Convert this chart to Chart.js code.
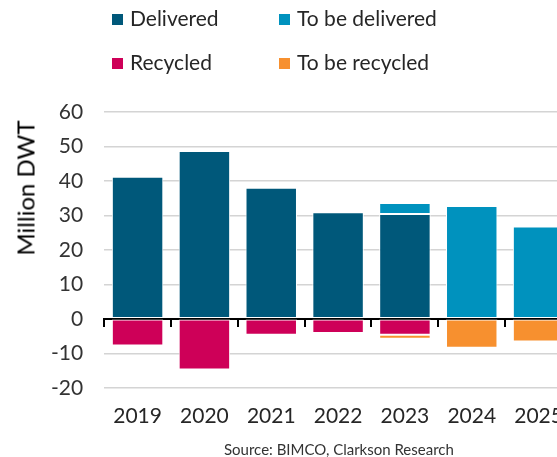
<!DOCTYPE html>
<html lang="en">

<head>
    <meta charset="UTF-8">
    <title>Deliveries and Recycling</title>
    <style>
        html, body {
            margin: 0;
            padding: 0;
            background: #ffffff;
            overflow: hidden;
        }

        .legend-item {
            position: absolute;
            font-family: Lato, "Open Sans", sans-serif;
            font-size: 21px;
            line-height: 24px;
            color: #262626;
            white-space: nowrap;
        }

        .legend-item span {
            display: inline-block;
            width: 11px;
            height: 11px;
            margin-right: 7px;
            vertical-align: 1px;
        }

        .ytitle {
            position: absolute;
            left: 25px;
            top: 188px;
            font-family: Lato, "Open Sans", sans-serif;
            font-size: 24px;
            color: #000;
            white-space: nowrap;
            transform: translate(-50%, -50%) rotate(-90deg);
        }

        .source {
            position: absolute;
            left: 224px;
            top: 440px;
            font-family: Lato, "Open Sans", sans-serif;
            font-size: 15px;
            color: #333;
            white-space: nowrap;
        }
    </style>
</head>

<body>
    <canvas id="chart" width="590" height="457"></canvas>
    <div id="legend"></div>
    <div class="ytitle">Million DWT</div>
    <div class="source">Source: BIMCO, Clarkson Research</div>

    <script src="https://cdn.jsdelivr.net/npm/chart.js"></script>
    <script>
        // Data (million DWT)
        const years = ["2019", "2020", "2021", "2022", "2023", "2024", "2025"];
        const delivered = [41.2, 48.7, 38.0, 30.9, 30.4, null, null];
        const toBeDelivered = [null, null, null, null, 3.2, 32.7, 26.8];
        const recycled = [-7.7, -14.7, -4.6, -4.1, -4.6, null, null];
        const toBeRecycled = [null, null, null, null, -1.2, -8.4, -6.6];
        const yTicks = [60, 50, 40, 30, 20, 10, 0, -10, -20];

        const seriesNames = ["Delivered", "To be delivered", "Recycled", "To be recycled"];
        const seriesColors = ["#00587A", "#0092BE", "#CE0058", "#F7902F"];
        const seriesData = [delivered, toBeDelivered, recycled, toBeRecycled];

        const chart = new Chart(document.getElementById("chart"), {
            type: "bar",
            data: {
                labels: years,
                datasets: seriesData.map((d, i) => ({
                    label: seriesNames[i],
                    data: d,
                    backgroundColor: seriesColors[i],
                    borderColor: "#ffffff",
                    borderWidth: 1,
                    borderSkipped: false,
                    xAxisID: "x",
                    yAxisID: "y",
                    categoryPercentage: 1,
                    barPercentage: 0.77,
                })),
            },
            options: {
                responsive: false,
                animation: false,
                layout: {
                    padding: { top: 112, left: 30, right: 18, bottom: 12 },
                },
                plugins: {
                    legend: { display: false },
                    tooltip: { enabled: false },
                },
                scales: {
                    x: {
                        type: "category",
                        position: "bottom",
                        stacked: true,
                        offset: true,
                        border: { display: false },
                        grid: { display: false, drawTicks: false },
                        ticks: {
                            color: "#262626",
                            font: { family: "Lato", size: 21 },
                            padding: 16,
                            maxRotation: 0,
                            autoSkip: false,
                        },
                    },
                    // zero line with tick marks between the years
                    x0: {
                        type: "category",
                        position: { y: 0 },
                        offset: true,
                        border: { display: true, color: "#000000", width: 2 },
                        grid: {
                            offset: true,
                            drawOnChartArea: false,
                            drawTicks: true,
                            tickLength: 7,
                            tickColor: "#000000",
                            lineWidth: 2,
                        },
                        ticks: { display: false },
                    },
                    y: {
                        stacked: true,
                        min: -20,
                        max: 60,
                        afterBuildTicks: (scale) => {
                            scale.ticks = yTicks.map((v) => ({ value: v }));
                        },
                        border: { display: false },
                        grid: {
                            drawTicks: false,
                            color: (c) => (c.tick && c.tick.value === 0 ? "rgba(0,0,0,0)" : "#d4d4d4"),
                            lineWidth: 1.5,
                        },
                        ticks: {
                            color: "#333333",
                            font: { family: "Lato", size: 21 },
                            padding: 21,
                        },
                    },
                },
            },
        });

        // Legend in two columns, built from the datasets
        const legend = document.getElementById("legend");
        const legendPos = [[112, 6], [279, 6], [112, 50], [279, 50]];
        chart.data.datasets.forEach((ds, i) => {
            const item = document.createElement("div");
            item.className = "legend-item";
            item.style.left = legendPos[i][0] + "px";
            item.style.top = legendPos[i][1] + "px";
            item.innerHTML = '<span style="background:' + ds.backgroundColor + '"></span>' + ds.label;
            legend.appendChild(item);
        });
    </script>
</body>

</html>
